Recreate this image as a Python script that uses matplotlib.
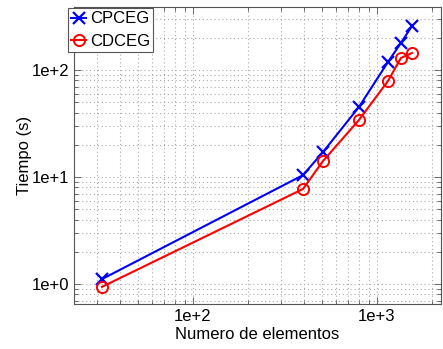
import numpy as np
import matplotlib.pyplot as plt
from matplotlib.ticker import LogLocator, FuncFormatter, NullFormatter

plt.rcParams['font.family'] = ['Liberation Sans', 'DejaVu Sans']

# numero de elementos
elementos = [32, 396, 509, 798, 1148, 1349, 1549]
# tiempos (s)
t_cpceg = [1.11, 10.4, 17.1, 45.1, 118.8, 178.7, 257.7]
t_cdceg = [0.94, 7.72, 14.1, 34.1, 78.9, 129.5, 144.2]

fig = plt.figure(figsize=(4.43, 3.49), dpi=100)
ax = fig.add_axes([74 / 443, 45 / 349, 367 / 443, 297 / 349])

ax.loglog(elementos, t_cpceg, color='#0000ff', marker='x', markersize=9,
          markeredgewidth=1.6, linewidth=1.5, label='CPCEG')
ax.loglog(elementos, t_cdceg, color='#ff0000', marker='o', markersize=8,
          markerfacecolor='none', markeredgewidth=1.4, linewidth=1.5, label='CDCEG')

ax.set_xlim(22.56, 2229)
ax.set_ylim(0.65, 388)

# etiquetas tipo "1e+2"
fmt = FuncFormatter(lambda v, p: '1e+%d' % int(round(np.log10(v))))
ax.xaxis.set_major_locator(LogLocator(base=10))
ax.yaxis.set_major_locator(LogLocator(base=10))
ax.xaxis.set_major_formatter(fmt)
ax.yaxis.set_major_formatter(fmt)
ax.xaxis.set_minor_locator(LogLocator(base=10, subs=np.arange(2, 10)))
ax.yaxis.set_minor_locator(LogLocator(base=10, subs=np.arange(2, 10)))
ax.xaxis.set_minor_formatter(NullFormatter())
ax.yaxis.set_minor_formatter(NullFormatter())

ax.tick_params(which='both', direction='in', top=True, right=True,
               labelsize=12, colors='#555555', labelcolor='black', width=0.6)
ax.tick_params(which='major', length=5)
ax.tick_params(which='minor', length=3)

ax.grid(True, which='both', linestyle=(0, (1, 2.5)), color='#aaaaaa', linewidth=0.8)
for s in ax.spines.values():
    s.set_color('#555555')
    s.set_linewidth(0.8)

ax.set_xlabel('Numero de elementos', fontsize=12, labelpad=2)
ax.set_ylabel('Tiempo (s)', fontsize=12, labelpad=0)

leg = ax.legend(loc='upper left', bbox_to_anchor=(68 / 443, 1 - 8 / 349),
                bbox_transform=fig.transFigure, fontsize=12, fancybox=False,
                framealpha=1, edgecolor='#555555', borderpad=0.2,
                handlelength=0.9, handletextpad=0.2, labelspacing=0.45,
                borderaxespad=0)
leg.get_frame().set_linewidth(0.8)

fig.savefig('out.png', dpi=100)
